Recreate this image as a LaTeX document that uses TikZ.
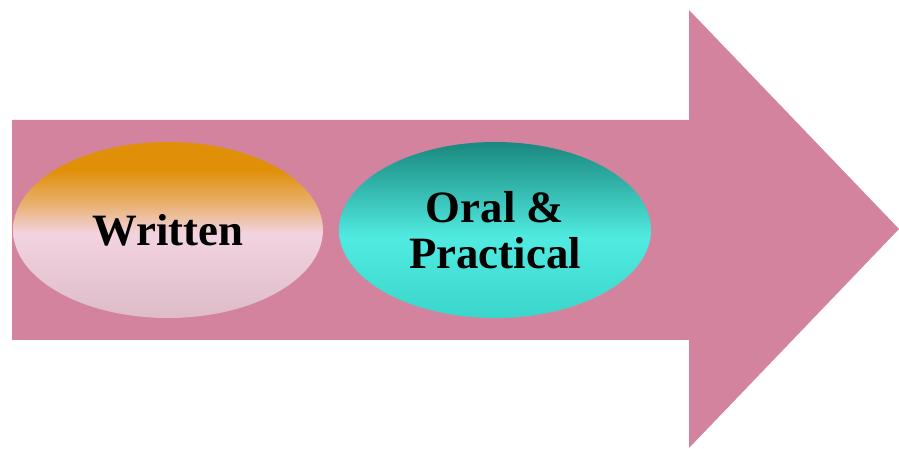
\documentclass[tikz,border=0pt]{standalone}
\usepackage{fontspec}
\setmainfont{Liberation Serif}
\usetikzlibrary{shapes.geometric}

\definecolor{arrowpink}{RGB}{212,131,158}
\definecolor{wrorange}{RGB}{224,144,8}
\definecolor{wrpink}{RGB}{242,211,224}
\definecolor{wrgrey}{RGB}{221,188,200}
\definecolor{ordark}{RGB}{26,136,126}
\definecolor{orlight}{RGB}{80,234,224}
\definecolor{orbottom}{RGB}{58,214,204}

\pgfdeclareverticalshading{writtenshade}{100bp}{color(0bp)=(wrgrey); color(25bp)=(wrgrey);
  color(49bp)=(wrpink); color(58bp)=(wrorange!55!wrpink); color(67bp)=(wrorange); color(100bp)=(wrorange)}
\pgfdeclareverticalshading{oralshade}{100bp}{color(0bp)=(orbottom); color(25bp)=(orbottom);
  color(48bp)=(orlight); color(75bp)=(ordark); color(100bp)=(ordark)}

\tikzset{
  oval/.style={ellipse,shade,minimum width=6.2cm,minimum height=3.52cm,inner sep=0pt,
    align=center,font=\bfseries\fontsize{25.5}{26.5}\selectfont}
}

\begin{document}
\begin{tikzpicture}[x=0.02cm,y=0.02cm]
      \useasboundingbox (0,0) rectangle (899,449);

      \fill[arrowpink] (12,109) -- (12,329) -- (689,329) -- (689,439)
        -- (899,220) -- (689,1) -- (689,109) -- cycle;

      \node[oval,shading=writtenshade] (written) at (168,219) {Written};
      \node[oval,shading=oralshade,minimum width=6.24cm] (oral) at (495,219) {Oral \&\\Practical};
    \end{tikzpicture}
\end{document}
